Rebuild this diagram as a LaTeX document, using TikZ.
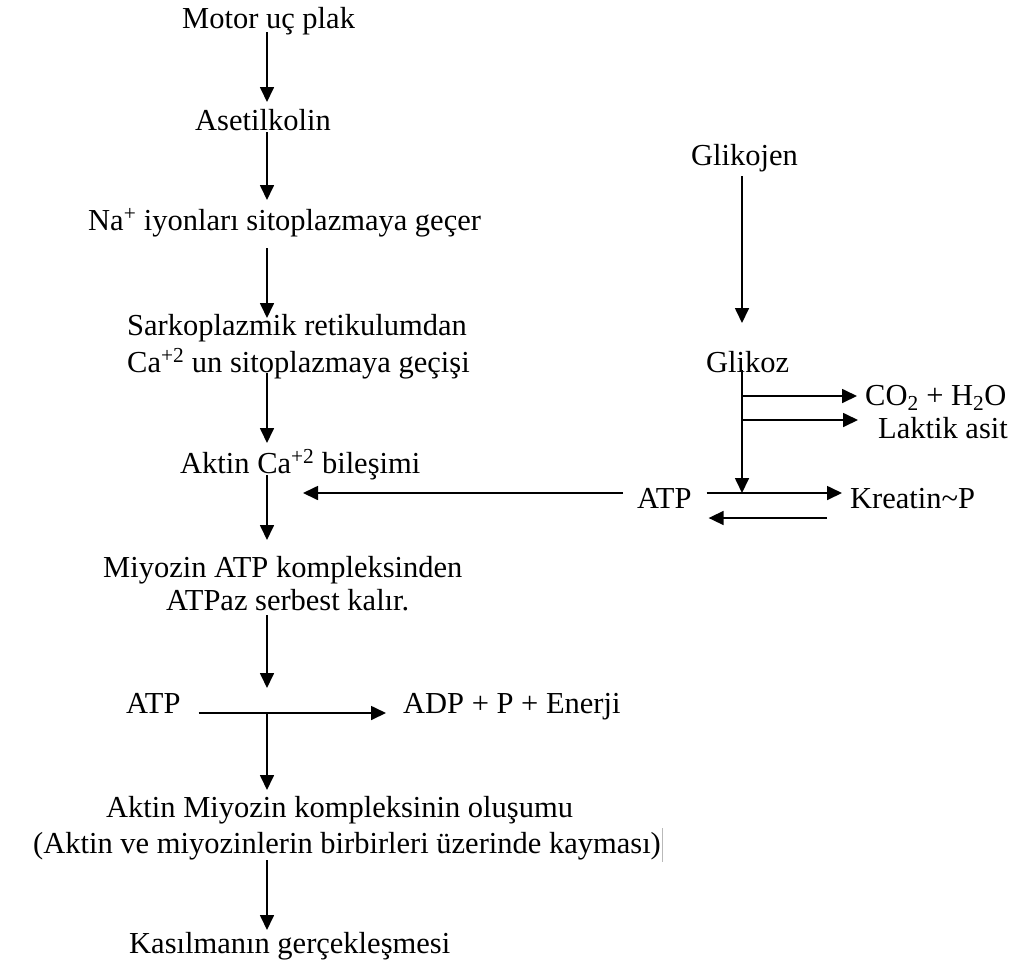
\documentclass[tikz,border=0pt]{standalone}
\usepackage{fontspec}
\setmainfont{Liberation Serif}
\usetikzlibrary{arrows.meta}
\begin{document}
\begin{tikzpicture}[x=1pt,y=-1pt,
  lbl/.style={anchor=base west, inner sep=0pt, font=\fontsize{30.5}{36}\selectfont},
  arr/.style={line width=1.7pt, -{Triangle[length=15pt,width=14pt]}},
  ln/.style={line width=1.7pt}]
\useasboundingbox[fill=white] (0,0) rectangle (1033,959);
\coordinate (spine) at (267,0);
\coordinate (rspine) at (742,0);
% left column
\node[lbl] (motor) at (182,28) {Motor uç plak};
\node[lbl] (ase) at (195,130) {Asetilkolin};
\node[lbl] (na) at (88,230) {Na\textsuperscript{+} iyonları sitoplazmaya geçer};
\node[lbl] (sarko1) at (127,335) {Sarkoplazmik retikulumdan};
\node[lbl] (sarko2) at (127,372) {Ca\textsuperscript{+2} un sitoplazmaya geçişi};
\node[lbl] (aktinCa) at (180,473) {Aktin Ca\textsuperscript{+2} bileşimi};
\node[lbl] (miy1) at (103,577) {Miyozin ATP kompleksinden};
\node[lbl] (miy2) at (166,610) {ATPaz serbest kalır.};
\node[lbl] (atpL) at (126,713) {ATP};
\node[lbl] (adp) at (403,713) {ADP + P + Enerji};
\node[lbl] (amk1) at (106,817) {Aktin Miyozin kompleksinin oluşumu};
\node[lbl] (amk2) at (33,853) {(Aktin ve miyozinlerin birbirleri üzerinde kayması)};
\node[lbl] (kas) at (129,953) {Kasılmanın gerçekleşmesi};
% right column
\node[lbl] (glikojen) at (691,165) {Glikojen};
\node[lbl] (glikoz) at (706,372) {Glikoz};
\node[lbl] (co2) at (865,405) {CO\textsubscript{2} + H\textsubscript{2}O};
\node[lbl] (laktik) at (878,438) {Laktik asit};
\node[lbl] (atpR) at (637,508) {ATP};
\node[lbl] (kreatin) at (850,508) {Kreatin\textasciitilde P};
% left column arrows
\draw[arr] ([yshift=-4pt]motor.base -| spine) -- ([yshift=28pt]ase.base -| spine);
\draw[arr] ([yshift=-2pt]ase.base -| spine) -- ([yshift=30pt]na.base -| spine);
\draw[arr] ([yshift=-18pt]na.base -| spine) -- ([yshift=17pt]sarko1.base -| spine);
\draw[arr] ([yshift=-1pt]sarko2.base -| spine) -- ([yshift=30pt]aktinCa.base -| spine);
\draw[arr] ([yshift=-2pt]aktinCa.base -| spine) -- ([yshift=37pt]miy1.base -| spine);
\draw[arr] ([yshift=-5pt]miy2.base -| spine) -- ([yshift=25pt]atpL.base -| spine);
\draw[arr] ([xshift=18pt]atpL.base east) -- ([xshift=-17pt]adp.base west);
\draw[arr] (atpL.base -| spine) -- ([yshift=27pt]amk1.base -| spine);
\draw[arr] ([yshift=-7pt]amk2.base -| spine) -- ([yshift=23pt]kas.base -| spine);
\draw[gray!55, line width=0.7pt] ([xshift=1.5pt,yshift=25pt]amk2.base east) -- ([xshift=1.5pt,yshift=-9pt]amk2.base east);
% right column arrows
\draw[arr] ([yshift=-11pt]glikojen.base -| rspine) -- ([yshift=49pt]glikoz.base -| rspine);
\draw[arr] ([yshift=2pt]glikoz.base -| rspine) -- ([yshift=15pt]atpR.base -| rspine);
\draw[arr] ([yshift=-24pt]glikoz.base -| rspine) -- ([xshift=-8pt,yshift=9pt]co2.base west);
\draw[arr] ([yshift=-48pt]glikoz.base -| rspine) -- ([xshift=-20pt,yshift=18pt]laktik.base west);
\draw[arr] ([xshift=15pt,yshift=15pt]atpR.base east) -- ([xshift=-8pt,yshift=15pt]kreatin.base west);
\draw[arr] ([xshift=-23pt,yshift=-10pt]kreatin.base west) -- ([xshift=17pt,yshift=-10pt]atpR.base east);
\draw[arr] ([xshift=-14pt,yshift=15pt]atpR.base west) -- ([xshift=123pt,yshift=-20pt]aktinCa.base west);
\end{tikzpicture}
\end{document}
